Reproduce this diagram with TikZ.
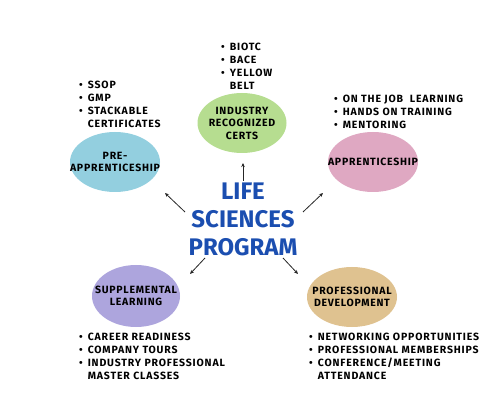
\documentclass[tikz,border=0pt]{standalone}
\usepackage{fontspec}
\setmainfont{Fira Sans}
\newfontfamily\hand{Fira Sans}[LetterSpace=7]
\newfontfamily\handl{Fira Sans}[LetterSpace=8]
\usetikzlibrary{arrows.meta,shapes.geometric}
\definecolor{cpre}{HTML}{93CFDF}
\definecolor{cind}{HTML}{B6DD90}
\definecolor{capp}{HTML}{DFA8C2}
\definecolor{csup}{HTML}{ADA5DD}
\definecolor{cpro}{HTML}{DFC290}
\definecolor{ctitle}{HTML}{1B4EB0}
\newcommand{\bul}{\textbullet}
\begin{document}
\begin{tikzpicture}[x=1pt,y=-1pt,
  bubble/.style={ellipse, draw=none, inner sep=0pt},
  etext/.style={font=\hand\bfseries\fontsize{10.5}{12.5}\selectfont, align=center, inner sep=0pt},
  blist/.style={font=\handl\bfseries\fontsize{10.5}{13}\selectfont, anchor=north west, inner sep=0pt},
  title/.style={font=\bfseries\fontsize{24}{28}\selectfont, text=ctitle, align=center, inner sep=0pt},
  conn/.style={line width=0.8pt, draw=black!85, -{Stealth[length=4pt,width=3.5pt]}}]
\useasboundingbox (0,0) rectangle (488,409);
% bubbles
\node[bubble, fill=cpre, minimum width=90pt, minimum height=60pt] (pre) at (115,162) {};
\node[bubble, fill=cind, minimum width=89pt, minimum height=60pt] (ind) at (242,123) {};
\node[bubble, fill=capp, minimum width=90pt, minimum height=60pt] (app) at (373,162) {};
\node[bubble, fill=csup, minimum width=88pt, minimum height=62pt] (sup) at (136,296) {};
\node[bubble, fill=cpro, minimum width=90pt, minimum height=60pt] (pro) at (352,297) {};
\node[etext] (pret) at (pre) {PRE-\\APPRENTICESHIP};
\node[etext] (indt) at (ind) {INDUSTRY\\RECOGNIZED\\CERTS};
\node[etext] (appt) at (app) {APPRENTICESHIP};
\node[etext] (supt) at (sup) {SUPPLEMENTAL\\LEARNING};
\node[etext] (prot) at (pro) {PROFESSIONAL\\DEVELOPMENT};
% lists
\node[blist] (prel) at (79,79) {\begin{tabular}{@{}l@{\hspace{5pt}}l@{}}\bul & SSOP\\ \bul & GMP\\ \bul & STACKABLE\\ & CERTIFICATES\end{tabular}};
\node[blist] (indl) at (221,41) {\begin{tabular}{@{}l@{\hspace{5pt}}l@{}}\bul & BIOTC\\ \bul & BACE\\ \bul & YELLOW\\ & BELT\end{tabular}};
\node[blist] (appl) at (334,93) {\begin{tabular}{@{}l@{\hspace{5pt}}l@{}}\bul & ON THE JOB\ \ LEARNING\\ \bul & HANDS ON TRAINING\\ \bul & MENTORING\end{tabular}};
\node[blist] (supl) at (79,331) {\begin{tabular}{@{}l@{\hspace{5pt}}l@{}}\bul & CAREER READINESS\\ \bul & COMPANY TOURS\\ \bul & INDUSTRY PROFESSIONAL\\ & MASTER CLASSES\end{tabular}};
\node[blist] (prol) at (309,331) {\begin{tabular}{@{}l@{\hspace{5pt}}l@{}}\bul & NETWORKING OPPORTUNITIES\\ \bul & PROFESSIONAL MEMBERSHIPS\\ \bul & CONFERENCE/MEETING\\ & ATTENDANCE\end{tabular}};
% title
\node[title] (ttl) at (243,219) {LIFE\\SCIENCES\\PROGRAM};
% connectors
\coordinate (u0) at (243,181); \coordinate (u1) at (243,163);
\coordinate (ul0) at (185,212); \coordinate (ul1) at (165,193);
\coordinate (ur0) at (303,212); \coordinate (ur1) at (323,193);
\coordinate (dl0) at (205,258); \coordinate (dl1) at (190,274);
\coordinate (dr0) at (283,258); \coordinate (dr1) at (298,274);
\draw[conn] (u0) -- (u1);
\draw[conn] (ul0) -- (ul1);
\draw[conn] (ur0) -- (ur1);
\draw[conn] (dl0) -- (dl1);
\draw[conn] (dr0) -- (dr1);
\end{tikzpicture}
\end{document}
